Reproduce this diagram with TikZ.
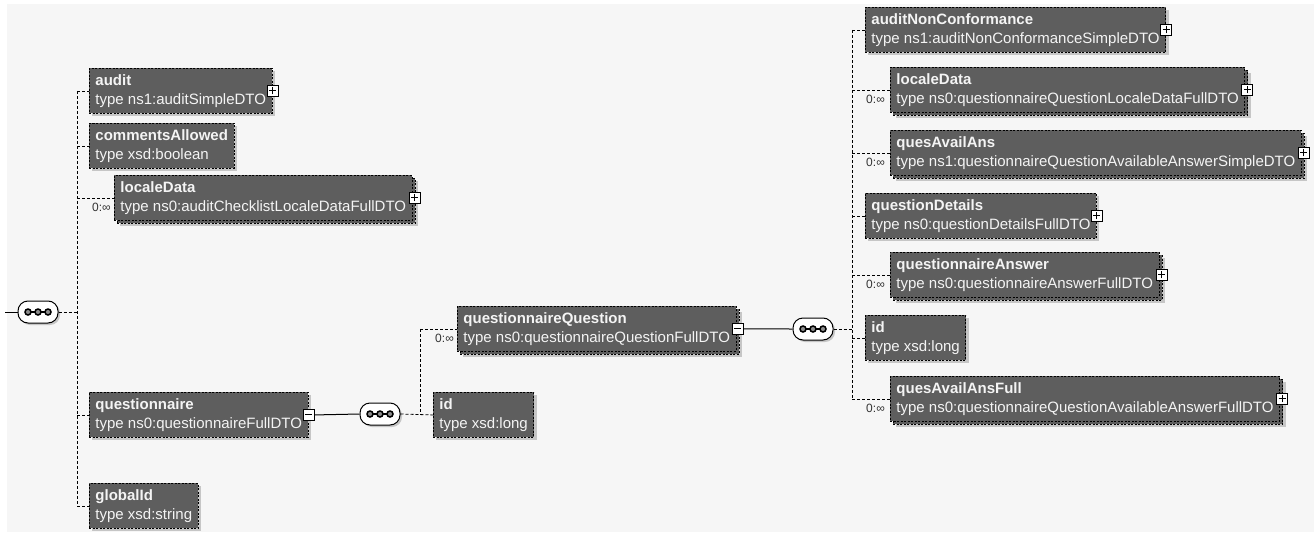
\documentclass[tikz,border=0pt]{standalone}
\usepackage{fontspec}
\setmainfont{Liberation Sans}
\usetikzlibrary{shadows}

\definecolor{bgcol}{HTML}{F6F6F6}
\definecolor{boxcol}{HTML}{5E5E5E}
\definecolor{txtcol}{HTML}{F4F4F4}
\definecolor{shcol}{HTML}{C6C6C6}

\tikzset{
  elem/.style={anchor=north west, fill=boxcol, draw=black,
    dash pattern=on 2pt off 1.5pt, line width=0.9pt, text=txtcol,
    align=left, inner xsep=6pt, inner ysep=4pt, minimum height=45pt,
    font=\fontsize{15}{19}\selectfont},
  single/.style={elem,
    drop shadow={shadow xshift=3pt, shadow yshift=-3pt, fill=shcol, opacity=1}},
  multi/.style={elem,
    drop shadow={shadow xshift=6pt, shadow yshift=-6pt, fill=shcol, opacity=1},
    copy shadow={shadow xshift=3pt, shadow yshift=-3pt, fill=boxcol, draw=black,
      dash pattern=on 2pt off 1.5pt, line width=0.9pt}},
  expand/.style={draw=black, fill=white, solid, line width=0.7pt,
    minimum size=11pt, inner sep=0pt,
    path picture={\draw[line width=1pt]
      ([xshift=-3.5pt]path picture bounding box.center) -- ([xshift=3.5pt]path picture bounding box.center)
      ([yshift=-3.5pt]path picture bounding box.center) -- ([yshift=3.5pt]path picture bounding box.center);}},
  collapse/.style={draw=black, fill=white, solid, line width=0.7pt,
    minimum size=11pt, inner sep=0pt,
    path picture={\draw[line width=1pt]
      ([xshift=-3.5pt]path picture bounding box.center) -- ([xshift=3.5pt]path picture bounding box.center);}},
  seq/.style={draw=black, fill=white, line width=1pt, rounded corners=10pt,
    minimum width=40pt, minimum height=22pt,
    drop shadow={shadow xshift=2pt, shadow yshift=-2pt, fill=shcol, opacity=1},
    path picture={
      \draw[line width=1.4pt] ([xshift=-10pt]path picture bounding box.center) -- ([xshift=10pt]path picture bounding box.center);
      \foreach \d in {-10,0,10}
        \draw[line width=1.5pt, fill=black!45] ([xshift=\d pt]path picture bounding box.center) circle (3pt);}},
  conn/.style={draw=black, dash pattern=on 3pt off 2pt, line width=0.8pt},
  link/.style={draw=black, line width=1pt},
  mult/.style={font=\fontsize{12}{13}\selectfont, text=black!80, inner sep=0pt, anchor=east}
}

\begin{document}
\begin{tikzpicture}[x=1pt,y=-1pt]
\useasboundingbox (0,0) rectangle (1314,535);
\fill[bgcol] (7,4) rectangle (1314,532);

% root sequence
\coordinate (root) at (5,312);
\node[seq] (seqA) at (38,312) {};
\coordinate (busA) at (77,0);

\node[single] (audit) at (89,68) {\textbf{audit}\\type ns1:auditSimpleDTO};
\node[expand] at (audit.east) {};
\node[single] (allowed) at (89,123) {\textbf{commentsAllowed}\\type xsd:boolean};
\node[multi] (localeA) at (114,175) {\textbf{localeData}\\type ns0:auditChecklistLocaleDataFullDTO};
\node[expand] at ([xshift=2pt]localeA.east) {};
\node[mult] at ([xshift=-3pt,yshift=-9pt]localeA.west) {0:∞};
\node[single] (questionnaire) at (89,392) {\textbf{questionnaire}\\type ns0:questionnaireFullDTO};
\node[collapse] (qminus) at (questionnaire.east) {};
\node[single] (globalid) at (89,483) {\textbf{globalId}\\type xsd:string};

\draw[link] (root) -- (seqA.west);
\draw[conn] (seqA.east) -- (seqA.east -| busA);
\draw[conn] (busA |- audit.west) -- (busA |- globalid.west);
\foreach \c in {audit,allowed,localeA,questionnaire,globalid}
  \draw[conn] (busA |- \c.west) -- (\c.west);

% questionnaire content
\node[seq] (seqB) at (380,414) {};
\coordinate (busB) at (420,0);
\node[multi] (question) at (457,306) {\textbf{questionnaireQuestion}\\type ns0:questionnaireQuestionFullDTO};
\node[collapse] (qqminus) at ([xshift=1pt]question.east) {};
\node[mult] at ([xshift=-3pt,yshift=-9pt]question.west) {0:∞};
\node[single] (idA) at (433,392) {\textbf{id}\\type xsd:long};

\draw[link] (qminus.east) -- (seqB.west);
\draw[conn] (seqB.east) -- (idA.west);
\draw[conn] (busB |- question.west) -- (busB |- idA.west);
\draw[conn] (busB |- question.west) -- (question.west);

% questionnaireQuestion content
\node[seq] (seqC) at (813,329) {};
\coordinate (busC) at (852,0);
\node[single] (nonconf) at (865,7) {\textbf{auditNonConformance}\\type ns1:auditNonConformanceSimpleDTO};
\node[expand] at (nonconf.east) {};
\node[multi] (localeB) at (890,67) {\textbf{localeData}\\type ns0:questionnaireQuestionLocaleDataFullDTO};
\node[expand] at ([xshift=2pt]localeB.east) {};
\node[mult] at ([xshift=-5pt,yshift=-9pt]localeB.west) {0:∞};
\node[multi] (avail) at (890,130) {\textbf{quesAvailAns}\\type ns1:questionnaireQuestionAvailableAnswerSimpleDTO};
\node[expand] at ([xshift=2pt]avail.east) {};
\node[mult] at ([xshift=-5pt,yshift=-9pt]avail.west) {0:∞};
\node[single] (details) at (865,193) {\textbf{questionDetails}\\type ns0:questionDetailsFullDTO};
\node[expand] at (details.east) {};
\node[multi] (answer) at (890,252) {\textbf{questionnaireAnswer}\\type ns0:questionnaireAnswerFullDTO};
\node[expand] at ([xshift=2pt]answer.east) {};
\node[mult] at ([xshift=-5pt,yshift=-9pt]answer.west) {0:∞};
\node[single] (idB) at (865,315) {\textbf{id}\\type xsd:long};
\node[multi] (availfull) at (890,376) {\textbf{quesAvailAnsFull}\\type ns0:questionnaireQuestionAvailableAnswerFullDTO};
\node[expand] at ([xshift=2pt]availfull.east) {};
\node[mult] at ([xshift=-5pt,yshift=-9pt]availfull.west) {0:∞};

\draw[link] (qqminus.east) -- (seqC.west);
\draw[conn] (seqC.east) -- (seqC.east -| busC);
\draw[conn] (busC |- nonconf.west) -- (busC |- availfull.west);
\foreach \c in {nonconf,localeB,avail,details,answer,idB,availfull}
  \draw[conn] (busC |- \c.west) -- (\c.west);
\end{tikzpicture}
\end{document}
